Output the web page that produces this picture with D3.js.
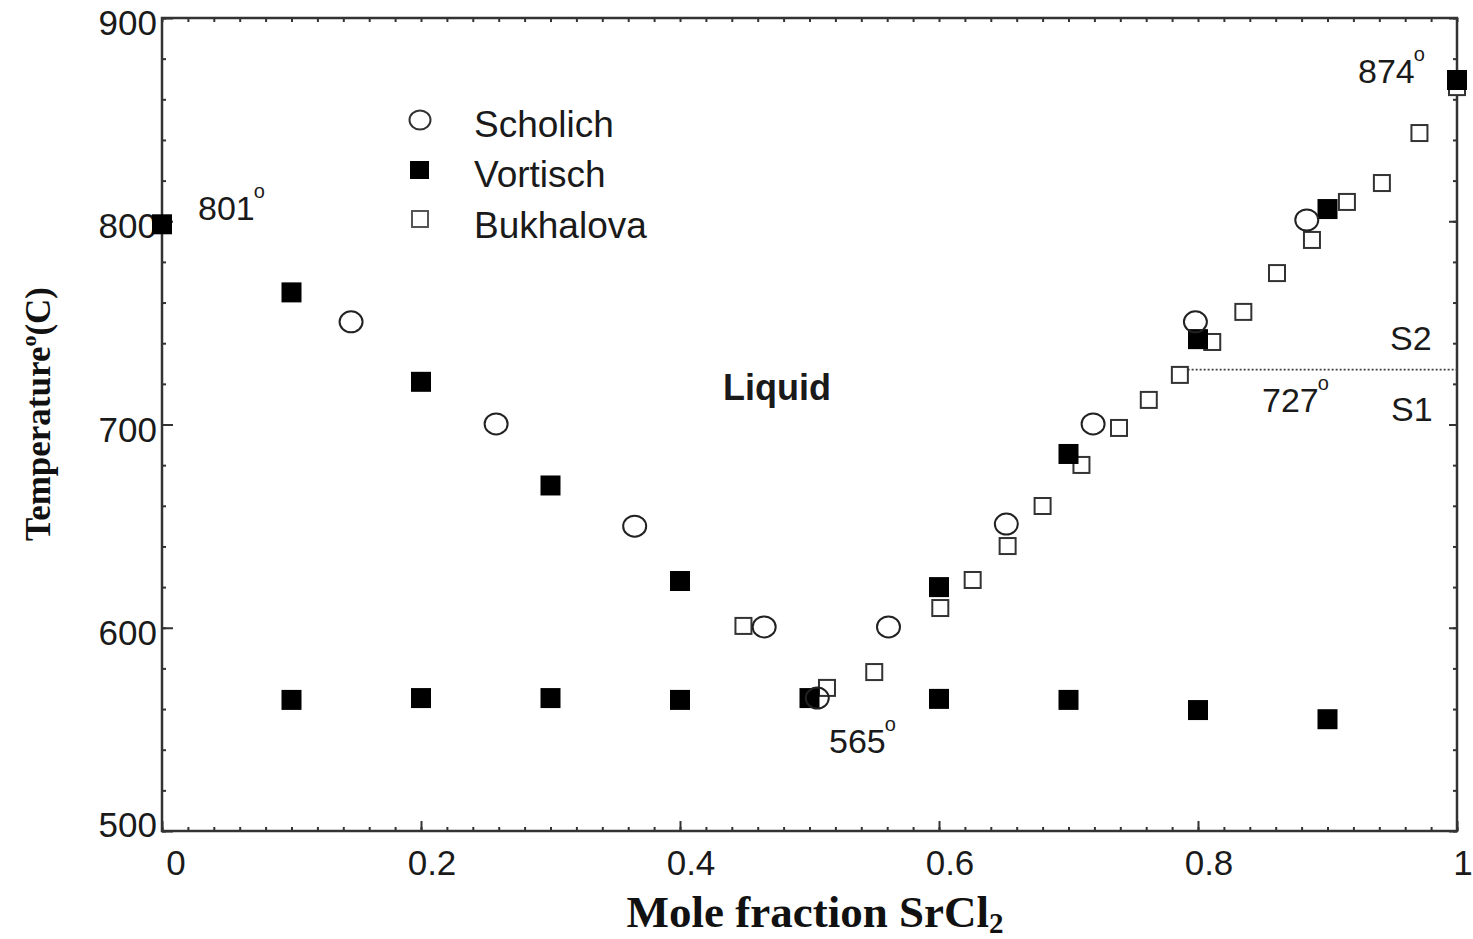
<!DOCTYPE html>
<html>
<head>
<meta charset="utf-8">
<script src="https://cdn.jsdelivr.net/npm/d3@7"></script>
<style>
  html, body { margin: 0; padding: 0; background: #fff; }
  svg { display: block; }
  .sans { font-family: "Liberation Sans", Arial, sans-serif; fill: #1a1a1a; }
  .serif { font-family: "Liberation Serif", "Times New Roman", serif; font-weight: bold; fill: #111; }
</style>
</head>
<body>
<svg id="chart" width="1473" height="939"></svg>
<script>
// ---- data ----
const xTickValues = [0, 0.2, 0.4, 0.6, 0.8, 1];
const xTickLabels = ["0", "0.2", "0.4", "0.6", "0.8", "1"];
const yTickValues = [500, 600, 700, 800, 900];
const yTickLabels = ["500", "600", "700", "800", "900"];

// Scholich (open circles)
const scholichX = [0.146, 0.258, 0.365, 0.465, 0.506, 0.561, 0.652, 0.719, 0.798, 0.884];
const scholichT = [750.5, 700.3, 650, 600.4, 565.4, 600.4, 651, 700.3, 750.5, 800.6];

// Vortisch (filled squares) - liquidus
const vortischX = [0, 0.1, 0.2, 0.3, 0.4, 0.6, 0.7, 0.8, 0.9, 1.0];
const vortischT = [798.5, 765, 721, 670, 623, 620, 685.5, 742, 806, 869.5];
// Vortisch (filled squares) - eutectic arrest
const vortischEutX = [0.1, 0.2, 0.3, 0.4, 0.5, 0.6, 0.7, 0.8, 0.9];
const vortischEutT = [564.5, 565.4, 565.4, 564.5, 565.4, 565, 564.5, 559.5, 555];

// Bukhalova (open squares)
const bukhalovaX = [0.449, 0.5135, 0.550, 0.601, 0.626, 0.653, 0.680, 0.710, 0.739, 0.762, 0.786, 0.811, 0.835, 0.861, 0.888, 0.915, 0.942, 0.971, 1.0];
const bukhalovaT = [600.9, 570.4, 578.2, 609.7, 623.5, 640.2, 659.9, 680.1, 698.3, 712.1, 724.4, 740.6, 755.4, 774.5, 790.8, 809.5, 818.8, 843.4, 866];

// transition line S1/S2
const transitionT = 727;
const transitionX = [0.792, 1.0];

const legendLabels = ["Scholich", "Vortisch", "Bukhalova"];

// ---- chart ----
const svg = d3.select("#chart");
const x = d3.scaleLinear().domain([0, 1]).range([162, 1457]);
const y = d3.scaleLinear().domain([500, 900]).range([831, 18]);

const frameColor = "#333";

const xMinor = d3.range(0, 1.0001, 0.02).map(v => +v.toFixed(2));
const yMinor = d3.range(500, 900.01, 20);

const gB = svg.append("g").attr("transform", `translate(0,${y(500)})`);
gB.call(d3.axisBottom(x).tickValues(xMinor).tickSize(-4).tickFormat(""));
const gB2 = svg.append("g").attr("transform", `translate(0,${y(500)})`);
gB2.call(d3.axisBottom(x).tickValues(xTickValues).tickSize(-10).tickFormat(""));
const gT = svg.append("g").attr("transform", `translate(0,${y(900)})`);
gT.call(d3.axisTop(x).tickValues(xMinor).tickSize(-4).tickFormat(""));
const gL = svg.append("g").attr("transform", `translate(${x(0)},0)`);
gL.call(d3.axisLeft(y).tickValues(yMinor).tickSize(-4).tickFormat(""));
const gL2 = svg.append("g").attr("transform", `translate(${x(0)},0)`);
gL2.call(d3.axisLeft(y).tickValues(yTickValues).tickSize(-11).tickFormat(""));
const gR = svg.append("g").attr("transform", `translate(${x(1)},0)`);
gR.call(d3.axisRight(y).tickValues(yMinor).tickSize(-4).tickFormat(""));
const gR2 = svg.append("g").attr("transform", `translate(${x(1)},0)`);
gR2.call(d3.axisRight(y).tickValues(yTickValues).tickSize(-8).tickFormat(""));

[gB, gB2, gT, gL, gL2, gR, gR2].forEach(g => {
  g.select(".domain").remove();
  g.selectAll(".tick line").attr("stroke", frameColor).attr("stroke-width", 2);
});

svg.append("rect")
  .attr("x", x(0)).attr("y", y(900))
  .attr("width", x(1) - x(0)).attr("height", y(500) - y(900))
  .attr("fill", "none").attr("stroke", frameColor).attr("stroke-width", 2.5);

// tick labels
svg.append("g").selectAll("text").data(xTickValues).join("text")
  .attr("class", "sans")
  .attr("x", (d, i) => x(d) + (i === 0 ? 14 : (i === 5 ? 6 : 11)))
  .attr("y", 875)
  .attr("text-anchor", "middle")
  .attr("font-size", 35)
  .text((d, i) => xTickLabels[i]);

svg.append("g").selectAll("text").data(yTickValues).join("text")
  .attr("class", "sans")
  .attr("x", x(0) - 5)
  .attr("y", d => y(d) + (d === 500 ? 6 : 17))
  .attr("text-anchor", "end")
  .attr("font-size", 35)
  .text((d, i) => yTickLabels[i]);

// axis titles
const xt = svg.append("text").attr("class", "serif")
  .attr("x", 815).attr("y", 927).attr("text-anchor", "middle").attr("font-size", 45);
xt.append("tspan").text("Mole fraction SrCl");
xt.append("tspan").attr("font-size", 29).attr("dy", 6).text("2");

const yt = svg.append("text").attr("class", "serif")
  .attr("transform", "translate(50,414) rotate(-90)")
  .attr("text-anchor", "middle").attr("font-size", 35);
yt.append("tspan").text("Temperature");
yt.append("tspan").attr("font-size", 22).attr("dy", -14).text("o");
yt.append("tspan").attr("dy", 14).text("(C)");

// transition dotted line
svg.append("line")
  .attr("x1", x(transitionX[0])).attr("x2", x(transitionX[1]))
  .attr("y1", y(transitionT)).attr("y2", y(transitionT))
  .attr("stroke", "#444").attr("stroke-width", 1.6)
  .attr("stroke-dasharray", "2,2");

// markers
const openSq = 18, fillSq = 20;
svg.append("g").selectAll("rect").data(bukhalovaX).join("rect")
  .attr("x", d => x(d) - openSq / 2 + 1)
  .attr("y", (d, i) => y(bukhalovaT[i]) - openSq / 2 + 1)
  .attr("width", openSq - 2).attr("height", openSq - 2)
  .attr("fill", "#fff").attr("stroke", "#333").attr("stroke-width", 2);
const vAll = vortischX.map((d, i) => [d, vortischT[i]]).concat(vortischEutX.map((d, i) => [d, vortischEutT[i]]));
svg.append("g").selectAll("rect").data(vAll).join("rect")
  .attr("x", d => x(d[0]) - fillSq / 2)
  .attr("y", d => y(d[1]) - fillSq / 2)
  .attr("width", fillSq).attr("height", fillSq)
  .attr("fill", "#000");
svg.append("g").selectAll("ellipse").data(scholichX).join("ellipse")
  .attr("cx", d => x(d))
  .attr("cy", (d, i) => y(scholichT[i]))
  .attr("rx", 11.5).attr("ry", 10.5)
  .attr("fill", "none").attr("stroke", "#222").attr("stroke-width", 2);

// legend
svg.append("ellipse").attr("cx", 420).attr("cy", 120).attr("rx", 10.5).attr("ry", 9.5)
  .attr("fill", "none").attr("stroke", "#333").attr("stroke-width", 2);
svg.append("rect").attr("x", 410).attr("y", 161).attr("width", 19).attr("height", 18).attr("fill", "#000");
svg.append("rect").attr("x", 412).attr("y", 211).attr("width", 16).attr("height", 16)
  .attr("fill", "#fff").attr("stroke", "#555").attr("stroke-width", 2);
svg.append("g").selectAll("text").data(legendLabels).join("text")
  .attr("class", "sans")
  .attr("x", 474)
  .attr("y", (d, i) => [137, 187, 238][i])
  .attr("font-size", 37)
  .text(d => d);

svg.append("text").attr("class", "sans").attr("x", 723).attr("y", 400)
  .attr("font-size", 36).attr("font-weight", "bold").text("Liquid");

// annotations (number + small degree mark)
const notes = [
  { t: "801", x: 198, y: 220 },
  { t: "874", x: 1358, y: 83 },
  { t: "727", x: 1262, y: 412 },
  { t: "565", x: 829, y: 753 }
];
notes.forEach(n => {
  const tx = svg.append("text").attr("class", "sans").attr("x", n.x).attr("y", n.y).attr("font-size", 34).text(n.t);
  const w = tx.node().getComputedTextLength();
  svg.append("text").attr("class", "sans").attr("x", n.x + w - 1).attr("y", n.y - 22)
    .attr("font-size", 20).text("o");
});
svg.append("text").attr("class", "sans").attr("x", 1390).attr("y", 350).attr("font-size", 34).text("S2");
svg.append("text").attr("class", "sans").attr("x", 1391).attr("y", 421).attr("font-size", 34).text("S1");
</script>
</body>
</html>
